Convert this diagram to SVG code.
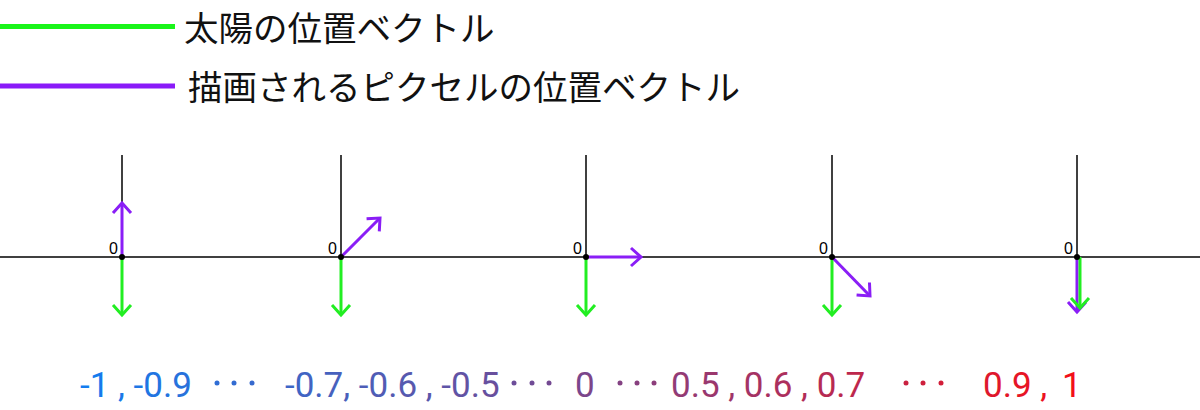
<svg xmlns="http://www.w3.org/2000/svg" width="1200" height="410" viewBox="0 0 1200 410">
<style>
.legend{font-family:"Noto Sans CJK JP","Noto Sans",sans-serif;font-size:34.5px;fill:#111}
.axis{stroke:#000;stroke-width:1.5;fill:none}
.zero{font-family:"Liberation Sans","DejaVu Sans",sans-serif;font-size:16px;fill:#000;text-anchor:end}
.sun{stroke:#22EE22;stroke-width:3;fill:none;marker-end:url(#hg)}
.pix{stroke:#8A1EF6;stroke-width:3;fill:none;marker-end:url(#hp)}
.val{font-family:Roboto,"Liberation Sans",sans-serif;font-size:35px;fill:url(#grad)}
</style>
<defs>
<linearGradient id="grad" gradientUnits="userSpaceOnUse" x1="80" y1="0" x2="1080" y2="0">
<stop offset="0" stop-color="#137CF0"/>
<stop offset="0.5" stop-color="#7A468C"/>
<stop offset="1" stop-color="#F40E18"/>
</linearGradient>
<marker id="hg" viewBox="-12 -12 24 24" refX="0" refY="0" markerWidth="24" markerHeight="24" markerUnits="userSpaceOnUse" orient="auto">
<path d="M-10,-9 L0,0 L-10,9" fill="none" stroke="#22EE22" stroke-width="3"/>
</marker>
<marker id="hp" viewBox="-12 -12 24 24" refX="0" refY="0" markerWidth="24" markerHeight="24" markerUnits="userSpaceOnUse" orient="auto">
<path d="M-10,-9 L0,0 L-10,9" fill="none" stroke="#8A1EF6" stroke-width="3"/>
</marker>
</defs>
<rect width="1200" height="410" fill="#fff"/>
<g id="legend">
<line x1="0" y1="26.5" x2="175" y2="26.5" stroke="#1AF51A" stroke-width="5"/>
<text class="legend" x="184" y="41">太陽の位置ベクトル</text>
<line x1="0" y1="86" x2="175" y2="86" stroke="#8A1AF8" stroke-width="5"/>
<text class="legend" x="188" y="100">描画されるピクセルの位置ベクトル</text>
</g>
<line class="axis" x1="0" y1="257" x2="1200" y2="257"/>
<g id="axis1"><line class="axis" x1="122" y1="155" x2="122" y2="257"/><text class="zero" x="118" y="254">0</text></g>
<g id="axis2"><line class="axis" x1="341" y1="155" x2="341" y2="257"/><text class="zero" x="337" y="254">0</text></g>
<g id="axis3"><line class="axis" x1="586" y1="155" x2="586" y2="257"/><text class="zero" x="582" y="254">0</text></g>
<g id="axis4"><line class="axis" x1="832" y1="155" x2="832" y2="257"/><text class="zero" x="828" y="254">0</text></g>
<g id="axis5"><line class="axis" x1="1077" y1="155" x2="1077" y2="257"/><text class="zero" x="1073" y="254">0</text></g>
<g id="connectors">
<line class="sun" x1="122" y1="257" x2="122" y2="315"/>
<line class="pix" x1="122" y1="257" x2="122" y2="203"/>
<line class="sun" x1="341" y1="257" x2="341" y2="315"/>
<line class="pix" x1="341" y1="257" x2="380" y2="218"/>
<line class="sun" x1="586" y1="257" x2="586" y2="315"/>
<line class="pix" x1="586" y1="257" x2="641" y2="257"/>
<line class="sun" x1="832" y1="257" x2="832" y2="315"/>
<line class="pix" x1="832" y1="257" x2="870" y2="296"/>
<line class="pix" x1="1077" y1="257" x2="1077" y2="312"/>
<line class="sun" x1="1080" y1="257" x2="1080" y2="308"/>
</g>
<g id="origins" fill="#000">
<circle cx="122" cy="257" r="3"/><circle cx="341" cy="257" r="3"/><circle cx="586" cy="257" r="3"/><circle cx="832" cy="257" r="3"/><circle cx="1077" cy="257" r="3"/>
</g>
<g id="values">
<text class="val" x="80" y="397">-1 , -0.9</text>
<text class="val" x="285" y="397">-0.7, -0.6 , -0.5</text>
<text class="val" x="575" y="397">0</text>
<text class="val" x="671" y="397">0.5 , 0.6 , 0.7</text>
<text class="val" x="983" y="397">0.9 , <tspan x="1062">1</tspan></text>
<g fill="url(#grad)">
<circle cx="217" cy="383" r="2.5"/><circle cx="234" cy="383" r="2.5"/><circle cx="252" cy="383" r="2.5"/>
<circle cx="514" cy="383" r="2.5"/><circle cx="532" cy="383" r="2.5"/><circle cx="549" cy="383" r="2.5"/>
<circle cx="620" cy="383" r="2.5"/><circle cx="637" cy="383" r="2.5"/><circle cx="654" cy="383" r="2.5"/>
<circle cx="906" cy="383" r="2.5"/><circle cx="923" cy="383" r="2.5"/><circle cx="941" cy="383" r="2.5"/>
</g>
</g>
</svg>
